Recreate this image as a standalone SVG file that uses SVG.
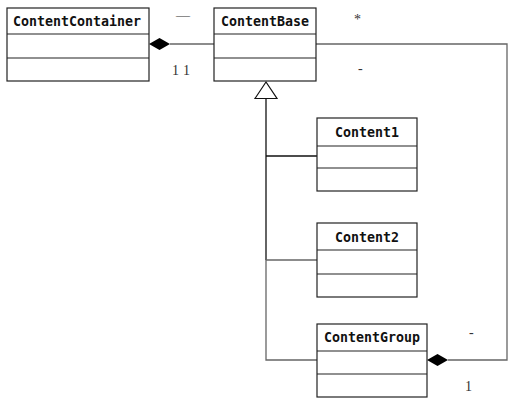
<svg xmlns="http://www.w3.org/2000/svg" width="521" height="410" viewBox="0 0 521 410">
<style>
.box{fill:#fff;stroke:#222;stroke-width:1.2}
.div{stroke:#222;stroke-width:1.2}
.name{font-family:"DejaVu Sans Mono","Liberation Mono",monospace;font-weight:bold;font-size:14.5px;fill:#111;text-anchor:middle}
.lbl{font-family:"Liberation Serif","DejaVu Serif",serif;font-size:14px;fill:#333}
.ln{fill:none;stroke:#666;stroke-width:1.3}
.lnk{fill:none;stroke:#111;stroke-width:1.3}
</style>
<rect width="521" height="410" fill="#fff"/>
<g id="connectors">
<path class="ln" d="M170,44 H214"/>
<polygon points="149,44 159.5,38 170,44 159.5,50" fill="#000"/>
<path class="ln" d="M316,44 H507 V360 H448"/>
<polygon points="427,360 437.5,354 448,360 437.5,366" fill="#000"/>
<polygon points="266,82 255,98.5 277,98.5" fill="#fff" stroke="#111" stroke-width="1.2"/>
<path class="lnk" d="M266,98.5 V260"/>
<path class="ln" d="M266,260 V360 H317"/>
<path class="lnk" d="M266,156 H317"/>
<path class="ln" d="M266,260 H317"/>
<text class="lbl" x="176" y="20" fill="#555">—</text>
<text class="lbl" x="172" y="75">1</text>
<text class="lbl" x="183" y="75">1</text>
<text class="lbl" x="354" y="24" font-size="17">*</text>
<text class="lbl" x="358" y="73" fill="#aaa">-</text>
<text class="lbl" x="469" y="337" fill="#666">-</text>
<text class="lbl" x="465" y="391">1</text>
</g>
<g id="ContentContainer">
<rect class="box" x="7" y="8" width="142" height="73"/>
<line class="div" x1="7" y1="34" x2="149" y2="34"/>
<line class="div" x1="7" y1="58" x2="149" y2="58"/>
<text class="name" x="77" y="26" textLength="128" lengthAdjust="spacingAndGlyphs">ContentContainer</text>
</g>
<g id="ContentBase">
<rect class="box" x="214" y="8" width="102" height="73"/>
<line class="div" x1="214" y1="34" x2="316" y2="34"/>
<line class="div" x1="214" y1="58" x2="316" y2="58"/>
<text class="name" x="265" y="26" textLength="88" lengthAdjust="spacingAndGlyphs">ContentBase</text>
</g>
<g id="Content1">
<rect class="box" x="317" y="118" width="100" height="73"/>
<line class="div" x1="317" y1="146" x2="417" y2="146"/>
<line class="div" x1="317" y1="168" x2="417" y2="168"/>
<text class="name" x="367" y="137" textLength="64" lengthAdjust="spacingAndGlyphs">Content1</text>
</g>
<g id="Content2">
<rect class="box" x="317" y="223" width="100" height="74"/>
<line class="div" x1="317" y1="250" x2="417" y2="250"/>
<line class="div" x1="317" y1="274" x2="417" y2="274"/>
<text class="name" x="367" y="242" textLength="64" lengthAdjust="spacingAndGlyphs">Content2</text>
</g>
<g id="ContentGroup">
<rect class="box" x="317" y="324" width="110" height="73"/>
<line class="div" x1="317" y1="351" x2="427" y2="351"/>
<line class="div" x1="317" y1="374" x2="427" y2="374"/>
<text class="name" x="372" y="342" textLength="96" lengthAdjust="spacingAndGlyphs">ContentGroup</text>
</g>
</svg>
